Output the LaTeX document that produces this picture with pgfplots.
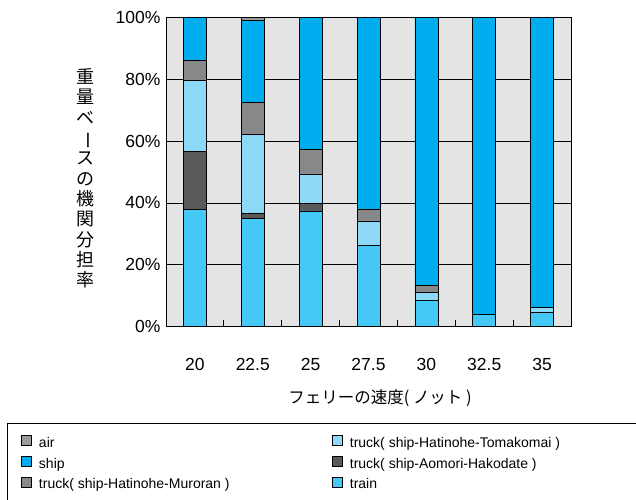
\documentclass[border=0pt]{standalone}
\usepackage{pgfplots}
\pgfplotsset{compat=1.18}
\usepackage{fontspec}
\setmainfont{Liberation Sans}
\newfontfamily\cjk{Noto Sans CJK JP}
\definecolor{cship}{HTML}{00AEEF}
\definecolor{ctrain}{HTML}{44C8F5}
\definecolor{ctoma}{HTML}{8ED8F8}
\definecolor{caomori}{HTML}{58595B}
\definecolor{cmuro}{HTML}{87888A}
\definecolor{cair}{HTML}{9A9B9D}
\definecolor{bgc}{HTML}{E4E4E4}
\begin{document}
\begin{tikzpicture}[x=1pt,y=1pt]
\begin{axis}[
  at={(166pt,172.3pt)}, anchor=south west,
  scale only axis, width=405pt, height=309.4pt,
  ybar stacked, bar width=23pt,
  xmin=-0.5, xmax=6.5, ymin=0, ymax=100,
  xtick={0,1,2,3,4,5,6}, xticklabels={20,22.5,25,27.5,30,32.5,35},
  extra x ticks={-0.5,0.5,1.5,2.5,3.5,4.5,5.5,6.5},
  extra x tick labels={},
  extra x tick style={major tick length=7pt, tick style={black, line width=0.8pt}, grid=none},
  ytick={0,20,40,60,80,100},
  yticklabel={\pgfmathprintnumber{\tick}\%},
  ymajorgrids, major grid style={black, line width=0.8pt},
  axis background/.style={fill=bgc},
  axis line style={black, line width=0.8pt},
  tick align=inside, tick pos=left,
  major tick length=0pt,
  ticklabel style={font=\fontsize{17.5}{20}\selectfont},
  xticklabel style={yshift=-28pt},
  yticklabel style={xshift=-2pt},
  /pgf/number format/assume math mode=true,
  every axis plot/.append style={draw=black, line width=0.6pt},
  legend columns=3, transpose legend, reverse legend,
  legend cell align=left,
  legend style={at={(-0.3588,-0.3494)}, anchor=north west, draw=none, fill=none,
    font=\fontsize{14}{16}\selectfont, inner sep=0pt, row sep=7.3pt,
    nodes={inner xsep=7.5pt, inner ysep=0pt, yshift=2.5pt},
    /tikz/every even column/.append style={column sep=94.7pt}},
  legend image code/.code={\draw[#1,draw=black,line width=0.6pt] (0pt,0pt) rectangle (10pt,10pt);},
]
\addplot[fill=ctrain] coordinates {(0,38.0) (1,35.0) (2,37.4) (3,26.2) (4,8.6) (5,3.9) (6,4.5)};
\addlegendentry{train}
\addplot[fill=caomori] coordinates {(0,18.7) (1,1.6) (2,2.4) (3,0) (4,0) (5,0) (6,0)};
\addlegendentry{truck( ship-Aomori-Hakodate )}
\addplot[fill=ctoma] coordinates {(0,23.0) (1,25.6) (2,9.6) (3,8.0) (4,2.4) (5,0) (6,1.8)};
\addlegendentry{truck( ship-Hatinohe-Tomakomai )}
\addplot[fill=cmuro] coordinates {(0,6.5) (1,10.4) (2,7.9) (3,3.9) (4,2.4) (5,0) (6,0)};
\addlegendentry{truck( ship-Hatinohe-Muroran )}
\addplot[fill=cship] coordinates {(0,13.8) (1,26.4) (2,42.7) (3,61.9) (4,86.6) (5,96.1) (6,93.7)};
\addlegendentry{ship}
\addplot[fill=cair] coordinates {(0,0) (1,1.0) (2,0) (3,0) (4,0) (5,0) (6,0)};
\addlegendentry{air}
\end{axis}
\node[font=\cjk\fontsize{18}{20.3}\selectfont, align=center] at (85pt,320.6pt)
  {重\\量\\ベ\\\rotatebox[origin=c]{-90}{ー}\\ス\\の\\機\\関\\分\\担\\率};
\node[font=\cjk\fontsize{16.5}{20}\selectfont] at (380pt,101pt) {フェリーの速度( ノット )};
\draw[black, line width=0.8pt] (7.3pt,75.7pt) rectangle (680pt,-30pt);
\pgfresetboundingbox
\useasboundingbox (0,0) rectangle (636pt,499pt);
\end{tikzpicture}
\end{document}
